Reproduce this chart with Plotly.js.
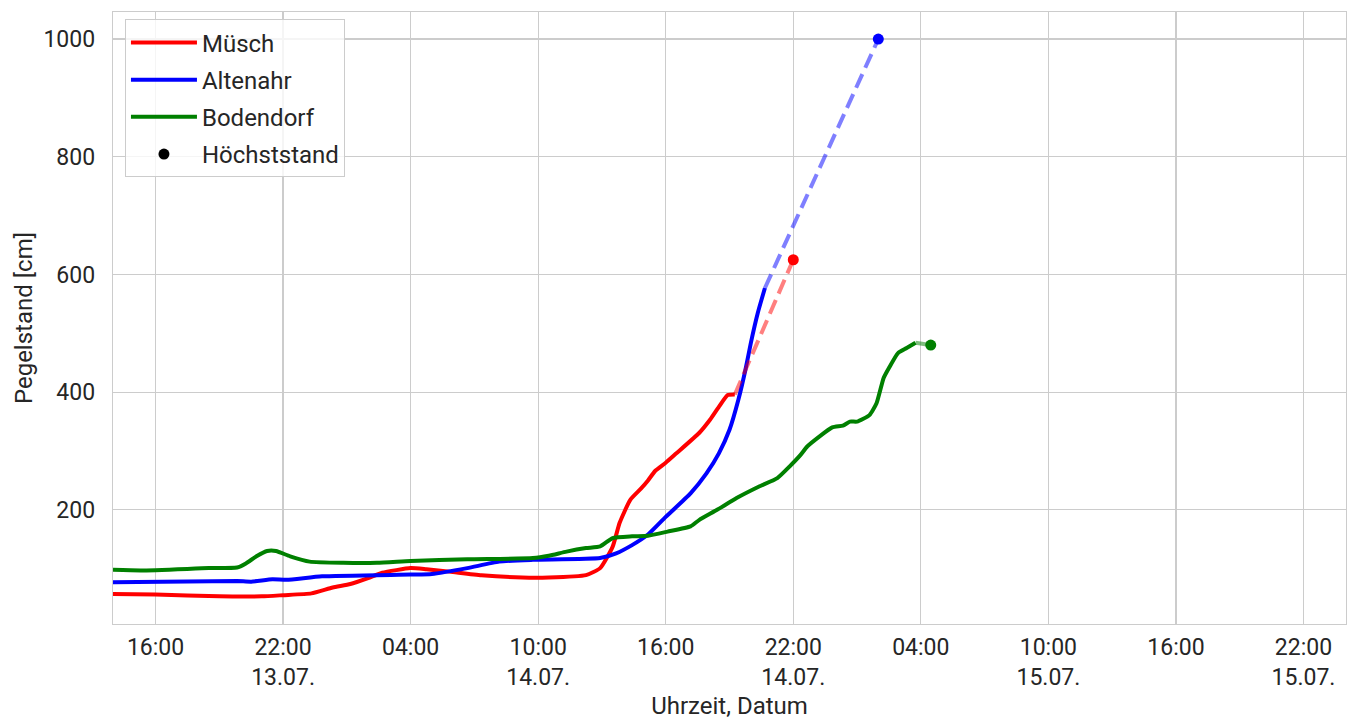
<!DOCTYPE html>
<html>
<head>
<meta charset="utf-8">
<script src="https://cdn.plot.ly/plotly-3.0.1.min.js"></script>
<style>html,body{margin:0;padding:0;background:#fff}#chart{width:1350px;height:720px}</style>
</head>
<body>
<div id="chart"></div>
<script>
// Müsch (Ahr) – gemessene Pegelstände
const muschTime = ["2021-07-13 14:00","2021-07-13 16:00","2021-07-13 19:00","2021-07-13 21:00","2021-07-13 22:00","2021-07-13 23:20","2021-07-14 00:20","2021-07-14 01:10","2021-07-14 02:00","2021-07-14 02:40","2021-07-14 04:00","2021-07-14 04:45","2021-07-14 05:50","2021-07-14 07:20","2021-07-14 09:15","2021-07-14 10:30","2021-07-14 12:15","2021-07-14 12:55","2021-07-14 13:30","2021-07-14 13:50","2021-07-14 14:20","2021-07-14 14:50","2021-07-14 15:10","2021-07-14 15:30","2021-07-14 16:00","2021-07-14 16:30","2021-07-14 17:35","2021-07-14 18:05","2021-07-14 18:30","2021-07-14 18:55","2021-07-14 19:15"];
const muschLevel = [57,56,53,53,55,58,68,74,84,93,101,99,95,89,85,85,89,101,137,178,217,236,250,266,280,296,331,353,375,395,396];

// Altenahr
const altenahrTime = ["2021-07-13 14:00","2021-07-13 19:50","2021-07-13 20:30","2021-07-13 21:30","2021-07-13 22:10","2021-07-13 23:50","2021-07-14 04:00","2021-07-14 05:00","2021-07-14 06:40","2021-07-14 08:10","2021-07-14 09:45","2021-07-14 12:55","2021-07-14 13:40","2021-07-14 14:25","2021-07-14 15:10","2021-07-14 16:00","2021-07-14 17:10","2021-07-14 17:55","2021-07-14 18:30","2021-07-14 19:00","2021-07-14 19:25","2021-07-14 19:45","2021-07-14 20:00","2021-07-14 20:20","2021-07-14 20:40"];
const altenahrLevel = [77,79,78,82,81,87,90,91,101,112,115,118,126,140,158,188,228,262,296,336,387,438,483,535,577];

// Bodendorf
const bodendorfTime = ["2021-07-13 14:00","2021-07-13 15:20","2021-07-13 18:30","2021-07-13 19:50","2021-07-13 20:15","2021-07-13 20:45","2021-07-13 21:15","2021-07-13 21:40","2021-07-13 22:20","2021-07-13 23:15","2021-07-14 00:50","2021-07-14 02:25","2021-07-14 04:00","2021-07-14 06:40","2021-07-14 09:45","2021-07-14 10:30","2021-07-14 11:20","2021-07-14 12:15","2021-07-14 12:55","2021-07-14 13:30","2021-07-14 14:25","2021-07-14 15:10","2021-07-14 16:05","2021-07-14 17:10","2021-07-14 17:35","2021-07-14 18:25","2021-07-14 19:20","2021-07-14 20:25","2021-07-14 21:15","2021-07-14 21:50","2021-07-14 22:20","2021-07-14 22:40","2021-07-14 23:50","2021-07-15 00:20","2021-07-15 00:40","2021-07-15 01:00","2021-07-15 01:35","2021-07-15 01:55","2021-07-15 02:15","2021-07-15 02:30","2021-07-15 02:55","2021-07-15 03:20","2021-07-15 03:45"];
const bodendorfLevel = [98,97,101,102,109,121,130,130,121,112,110,110,113,116,118,122,129,135,138,152,155,156,163,172,183,200,220,240,254,274,293,308,340,343,350,350,361,381,424,441,466,475,484];

// Höchststände (geschätzt)
const peakStation = ["Müsch","Altenahr","Bodendorf"];
const peakTime = ["2021-07-14 22:00","2021-07-15 02:00","2021-07-15 04:28"];
const peakLevel = [625,1000,480];

// Achsenbeschriftung
const tickTimes = ["2021-07-13 16:00","2021-07-13 22:00","2021-07-14 04:00","2021-07-14 10:00","2021-07-14 16:00","2021-07-14 22:00","2021-07-15 04:00","2021-07-15 10:00","2021-07-15 16:00","2021-07-15 22:00"];
const tickLabels = ["16:00","22:00<br>13.07.","04:00","10:00<br>14.07.","16:00","22:00<br>14.07.","04:00","10:00<br>15.07.","16:00","22:00<br>15.07."];
const yTicks = [200,400,600,800,1000];

const colors = {"Müsch":"#ff0000","Altenahr":"#0000ff","Bodendorf":"#008000"};
const fade = {"Müsch":"rgba(255,0,0,0.5)","Altenahr":"rgba(0,0,255,0.5)","Bodendorf":"rgba(0,128,0,0.5)"};

const series = [
  {name:"Müsch", t:muschTime, v:muschLevel},
  {name:"Altenahr", t:altenahrTime, v:altenahrLevel},
  {name:"Bodendorf", t:bodendorfTime, v:bodendorfLevel}
];

const traces = [];
series.forEach((s,i)=>{
  traces.push({type:"scatter",mode:"lines",x:s.t,y:s.v,name:s.name,
    line:{color:colors[s.name],width:4,shape:"spline",smoothing:0.5},legendgroup:"g"+i,hoverinfo:"x+y"});
});
series.forEach((s,i)=>{
  const n = s.t.length-1;
  traces.push({type:"scatter",mode:"lines",x:[s.t[n],peakTime[i]],y:[s.v[n],peakLevel[i]],
    line:{color:fade[s.name],width:4,dash:"15px,7px"},showlegend:false,legendgroup:"g"+i,hoverinfo:"skip"});
});
traces.push({type:"scatter",mode:"markers",x:peakTime,y:peakLevel,text:peakStation,
  marker:{color:peakStation.map(n=>colors[n]),size:11},showlegend:false,legendgroup:"g3"});
traces.push({type:"scatter",mode:"markers",x:[null],y:[null],name:"Höchststand",
  marker:{color:"#000000",size:11},legendgroup:"g3"});

const font = {family:"Roboto, 'Noto Sans', sans-serif",size:23,color:"#262626"};
const legFont = {family:"Roboto, 'Noto Sans', sans-serif",size:24,color:"#262626"};

const layout = {
  width:1350,height:720,
  margin:{l:113,r:4,t:12,b:96},
  paper_bgcolor:"#ffffff",plot_bgcolor:"#ffffff",
  font:font,
  showlegend:true,
  legend:{x:0.0097,y:0.988,xanchor:"left",yanchor:"top",bgcolor:"rgba(255,255,255,0.8)",
    bordercolor:"#cccccc",borderwidth:1,font:legFont,tracegroupgap:3,traceorder:"grouped",itemwidth:66},
  xaxis:{type:"date",range:["2021-07-13 14:00","2021-07-16 00:00"],
    tickmode:"array",tickvals:tickTimes,ticktext:tickLabels,
    showgrid:true,gridcolor:"#cccccc",gridwidth:1.2,
    showline:true,mirror:true,linecolor:"#cccccc",linewidth:1.3,
    ticks:"",zeroline:false,ticklabelstandoff:2,
    title:{text:"Uhrzeit, Datum",font:legFont,standoff:12}},
  yaxis:{range:[6,1046],tickmode:"array",tickvals:yTicks,
    showgrid:true,gridcolor:"#cccccc",gridwidth:1.2,
    showline:true,mirror:true,linecolor:"#cccccc",linewidth:1.3,
    ticks:"",zeroline:false,ticklabelstandoff:12,
    title:{text:"Pegelstand [cm]",font:legFont,standoff:4}}
};

Plotly.newPlot("chart",traces,layout,{displayModeBar:false,staticPlot:true});
</script>
</body>
</html>
